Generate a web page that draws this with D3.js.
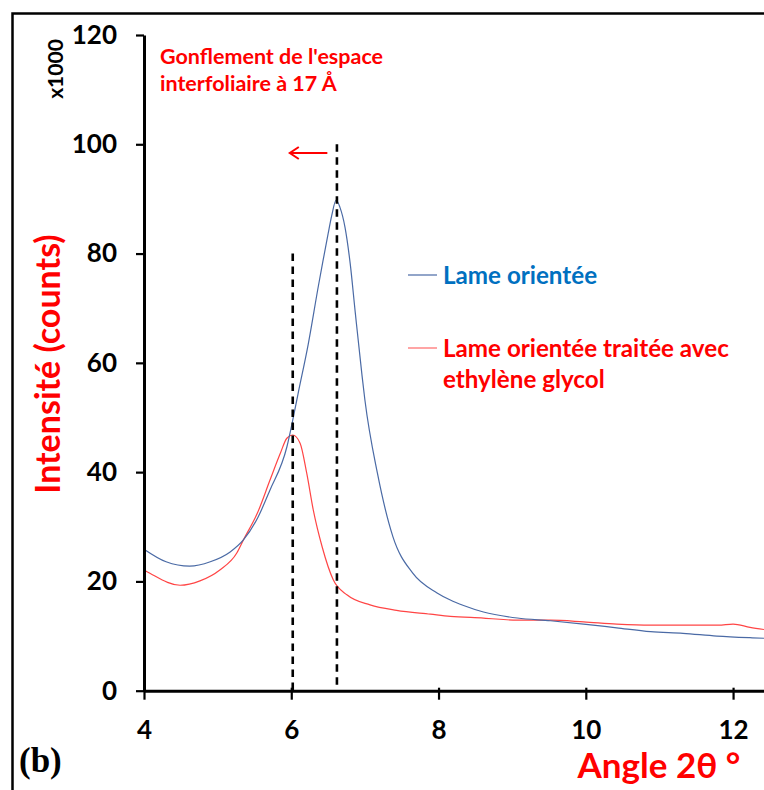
<!DOCTYPE html>
<html>
<head>
<meta charset="utf-8">
<script src="https://cdn.jsdelivr.net/npm/d3@7"></script>
<style>
  body { margin: 0; background: #fff; }
  svg { display: block; font-family: Lato, "Open Sans", sans-serif; }
</style>
</head>
<body>
<div id="chart"></div>
<script>
// values (intensity in thousands of counts)
var blueX = [4.0, 4.3, 4.62, 4.9, 5.17, 5.35, 5.55, 5.71, 5.94, 6.02, 6.09, 6.23, 6.37, 6.43, 6.5, 6.55, 6.61, 6.66, 6.73, 6.8, 6.87, 6.96, 7.0, 7.17, 7.38, 7.65, 7.98, 8.16, 8.34, 8.61, 9.07, 9.52, 9.97, 10.42, 10.88, 11.32, 11.78, 12.23, 12.42];
var blueY = [25.9, 23.6, 22.8, 23.6, 25.4, 27.6, 31.8, 36.7, 44.6, 49.5, 54.2, 63.4, 74.2, 78.6, 83.6, 87.0, 89.8, 88.5, 84.8, 78.2, 69.1, 57.8, 53.2, 39.8, 28.2, 21.5, 17.9, 16.6, 15.6, 14.4, 13.3, 12.8, 12.2, 11.5, 10.8, 10.5, 10.0, 9.7, 9.6];

var redX = [4.0, 4.08, 4.49, 4.76, 5.03, 5.26, 5.35, 5.54, 5.71, 5.85, 5.94, 6.02, 6.12, 6.21, 6.3, 6.42, 6.57, 6.76, 7.07, 7.43, 7.89, 8.16, 8.61, 9.07, 9.52, 9.97, 10.42, 10.88, 11.32, 11.8, 12.0, 12.23, 12.42];
var redY = [22.1, 21.5, 19.3, 20.1, 22.1, 25.2, 27.6, 32.5, 38.5, 43.4, 46.2, 46.8, 45.3, 39.8, 33.0, 26.3, 20.3, 17.5, 15.7, 14.7, 14.0, 13.6, 13.3, 12.9, 12.9, 12.6, 12.2, 12.0, 12.0, 12.0, 12.2, 11.6, 11.2];

var xTicks = [4, 6, 8, 10, 12];
var yTicks = [0, 20, 40, 60, 80, 100, 120];
var dashX = [6.02, 6.62];
var dashTop = [80, 100];
var seriesNames = ["Lame orientée", "Lame orientée traitée avec", "ethylène glycol"];

var W = 764, H = 790;
var svg = d3.select("#chart").append("svg").attr("width", W).attr("height", H);

// frame (left and top edges visible)
svg.append("path")
  .attr("d", "M12.5,790 L12.5,13.5 L764,13.5")
  .attr("fill", "none").attr("stroke", "#000").attr("stroke-width", 2.5);

var x = d3.scaleLinear().domain([4, 12.42]).range([144, 764]);
var y = d3.scaleLinear().domain([0, 120]).range([690.7, 35]);

svg.append("clipPath").attr("id", "clip")
  .append("rect").attr("x", 144).attr("y", 0).attr("width", 620).attr("height", 690);

var line = d3.line()
  .x(function(d) { return x(d[0]); })
  .y(function(d) { return y(d[1]); })
  .curve(d3.curveMonotoneX);

var plot = svg.append("g").attr("clip-path", "url(#clip)");

// dashed markers
dashX.forEach(function(v, i) {
  svg.append("line")
    .attr("x1", x(v)).attr("x2", x(v))
    .attr("y1", y(dashTop[i])).attr("y2", y(0))
    .attr("stroke", "#000").attr("stroke-width", 2.6)
    .attr("stroke-dasharray", "7.5,5.5");
});

plot.append("path").datum(d3.zip(redX, redY))
  .attr("d", line).attr("fill", "none")
  .attr("stroke", "#ff4545").attr("stroke-width", 1.2);

plot.append("path").datum(d3.zip(blueX, blueY))
  .attr("d", line).attr("fill", "none")
  .attr("stroke", "#4a6aa5").attr("stroke-width", 1.2);

// axes
var yAxis = svg.append("g").attr("transform", "translate(144,0)")
  .call(d3.axisLeft(y).tickValues(yTicks).tickSize(8).tickSizeOuter(0).tickPadding(19));
var xAxis = svg.append("g").attr("transform", "translate(0,690.7)")
  .call(d3.axisBottom(x).tickValues(xTicks).tickSize(9).tickSizeOuter(0).tickPadding(21));

[yAxis, xAxis].forEach(function(a) {
  a.select(".domain").attr("stroke", "#000").attr("stroke-width", 3);
  a.selectAll(".tick line").attr("stroke", "#000").attr("stroke-width", 2.2);
  a.selectAll(".tick text")
    .attr("fill", "#000")
    .style("font-family", "Lato, sans-serif")
    .style("font-weight", "bold")
    .style("font-size", "26px");
});
xAxis.selectAll(".tick line").attr("y1", -3);

// axis titles
svg.append("text")
  .attr("transform", "translate(60,364) rotate(-90)")
  .attr("text-anchor", "middle")
  .attr("fill", "#ff0000").attr("font-weight", "bold").attr("font-size", 34)
  .text("Intensité (counts)");

svg.append("text")
  .attr("transform", "translate(63,69) rotate(-90)")
  .attr("text-anchor", "middle")
  .attr("fill", "#000").attr("font-weight", "bold").attr("font-size", 21)
  .text("x1000");

svg.append("text")
  .attr("x", 659).attr("y", 778)
  .attr("text-anchor", "middle")
  .attr("fill", "#ff0000").attr("font-weight", "bold").attr("font-size", 35)
  .text("Angle 2θ °");

svg.append("text")
  .attr("x", 19).attr("y", 772)
  .attr("fill", "#000").attr("font-weight", "bold").attr("font-size", 35)
  .style("font-family", "'Liberation Serif', 'DejaVu Serif', serif")
  .text("(b)");

// annotation
var ann = svg.append("text").attr("fill", "#ff0000").attr("font-weight", "bold").attr("font-size", 21.5);
ann.append("tspan").attr("x", 160).attr("y", 64).text("Gonflement de l'espace");
ann.append("tspan").attr("x", 160).attr("y", 91).text("interfoliaire à 17 Å");

// arrow
var ay = y(98.4);
svg.append("line")
  .attr("x1", x(6.49)).attr("x2", x(5.98)).attr("y1", ay).attr("y2", ay)
  .attr("stroke", "#ff0000").attr("stroke-width", 2);
svg.append("path")
  .attr("d", "M" + (x(5.98) + 9) + "," + (ay - 6) + " L" + x(5.98) + "," + ay + " L" + (x(5.98) + 9) + "," + (ay + 6))
  .attr("fill", "none").attr("stroke", "#ff0000").attr("stroke-width", 2);

// legend
svg.append("line").attr("x1", 408).attr("x2", 437).attr("y1", 275).attr("y2", 275)
  .attr("stroke", "#4a6aa5").attr("stroke-width", 1.2);
svg.append("text").attr("x", 443).attr("y", 284)
  .attr("fill", "#0070c0").attr("font-weight", "bold").attr("font-size", 24.2)
  .text(seriesNames[0]);

svg.append("line").attr("x1", 408).attr("x2", 437).attr("y1", 348).attr("y2", 348)
  .attr("stroke", "#ff6a6a").attr("stroke-width", 1.2);
var leg2 = svg.append("text").attr("fill", "#ff0000").attr("font-weight", "bold").attr("font-size", 24.2);
leg2.append("tspan").attr("x", 443).attr("y", 357).text(seriesNames[1]);
leg2.append("tspan").attr("x", 443).attr("y", 388).text(seriesNames[2]);
</script>
</body>
</html>
